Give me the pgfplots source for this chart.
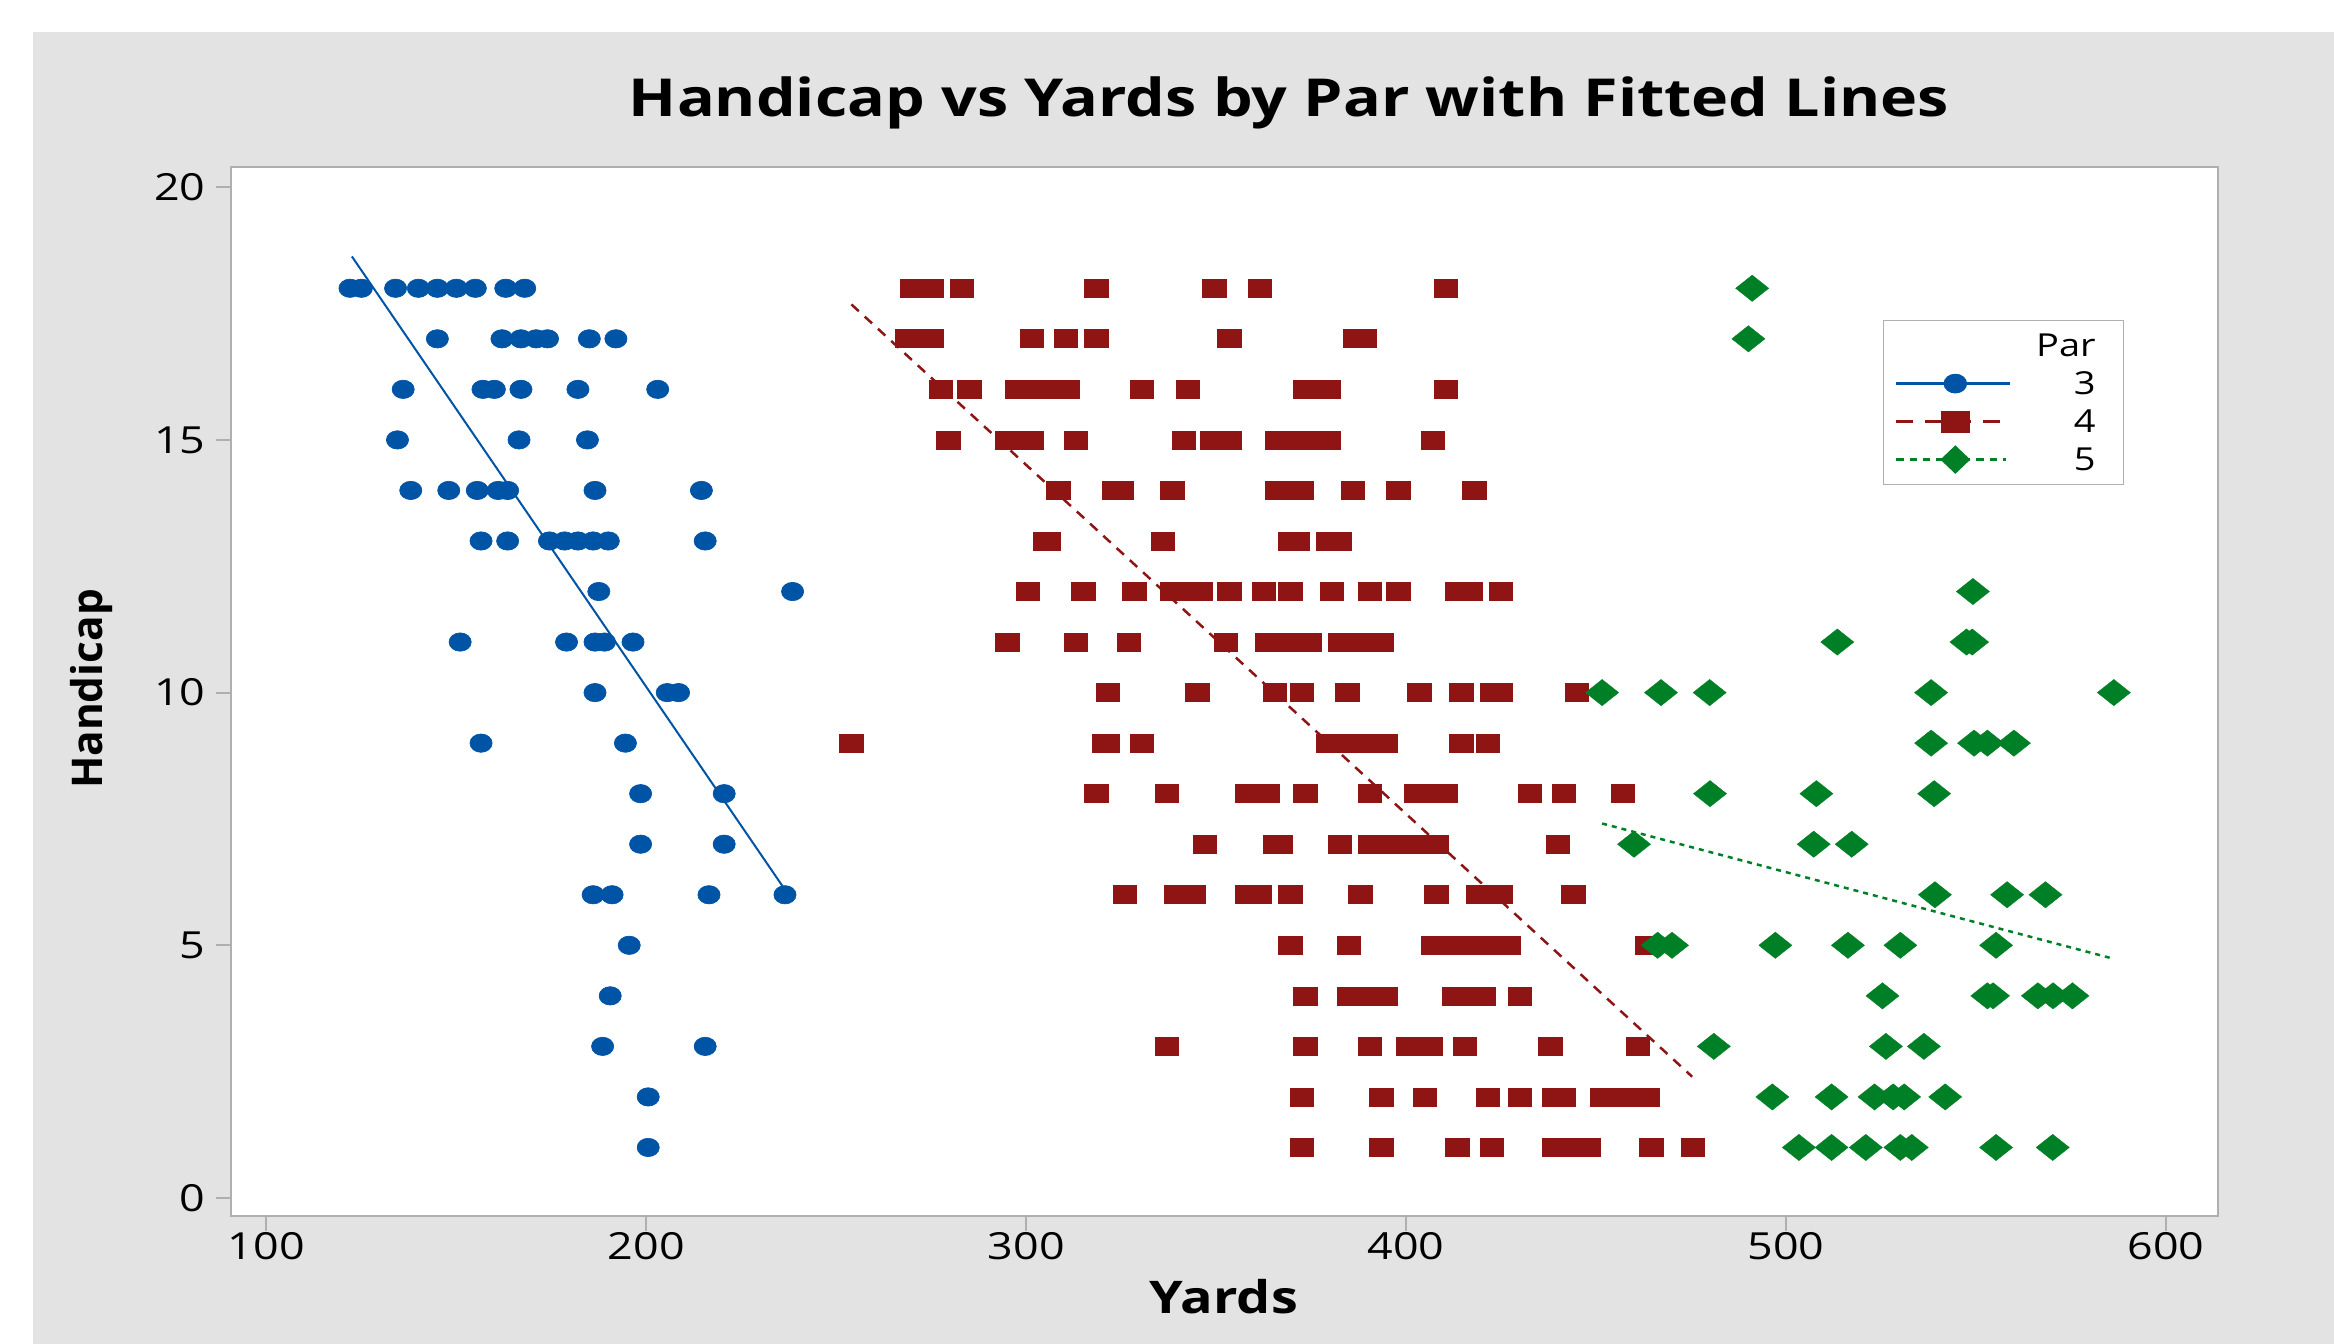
\documentclass[border=0pt]{standalone}
\usepackage{fontspec}
\setmainfont{Open Sans}[FakeStretch=1.2]
\newfontfamily\ylabfont{Open Sans}
\usepackage{pgfplots}
\pgfplotsset{compat=1.18}
\definecolor{pblue}{RGB}{0,84,166}
\definecolor{pred}{RGB}{143,20,20}
\definecolor{pgreen}{RGB}{0,128,38}
\definecolor{bggray}{RGB}{227,227,227}
\definecolor{framegray}{RGB}{175,175,175}
\begin{document}
\begin{tikzpicture}
\path[fill=white] (0,0) rectangle (700.2pt,403.2pt);
\fill[bggray] (9.9pt,0) rectangle (700.2pt,393.6pt);
\begin{axis}[
  at={(69.3pt,38.4pt)}, anchor=south west,
  width=596.1pt, height=314.7pt, scale only axis,
  xmin=90.68, xmax=613.72, ymin=-0.356, ymax=20.40,
  axis background/.style={fill=white},
  axis line style={framegray, line width=0.6pt},
  xtick={100,200,...,600}, ytick={0,5,...,20},
  tick align=outside, tick pos=left,
  major tick length=4.5pt,
  every tick/.style={framegray, line width=0.6pt},
  /pgf/number format/assume math mode=true,
  ticklabel style={font=\fontsize{11.2}{13}\selectfont, text=black},
  xticklabel style={inner sep=0.3pt},
  yticklabel style={inner sep=3pt},
  title={Handicap vs Yards by Par with Fitted Lines},
  title style={at={(axis description cs:0.5325,1.0477)}, anchor=base, yshift=-6pt, font=\fontsize{15.7}{18}\selectfont\bfseries},
  xlabel={Yards},
  xlabel style={at={(axis description cs:0.4997,-0.0925)}, anchor=base, font=\fontsize{13.5}{16}\selectfont\bfseries},
  ylabel={Handicap},
  ylabel style={at={(axis description cs:-0.07,0.5024)}, anchor=center, font=\ylabfont\fontsize{12.7}{15}\selectfont\bfseries},
  legend style={at={(axis description cs:0.9527,0.8542)}, anchor=north east,
    draw=framegray, fill=white, font=\fontsize{9.5}{11}\selectfont,
    inner xsep=3.5pt, inner ysep=1.8pt, row sep=0pt,
    nodes={inner xsep=1pt, inner ysep=2.3pt, text height=6.8pt, text depth=0pt},
    /tikz/every odd column/.append style={column sep=6.5pt}},
  legend cell align=right,
]
\addlegendimage{empty legend}
\addlegendentry{Par\hspace*{3.8pt}}

% Par 3
\addplot[only marks, mark=*, mark size=2.75pt, color=pblue,
  mark options={xscale=1.21, fill=pblue, draw=pblue, line width=0.2pt},
  legend image code/.code={
    \draw[pblue, line width=0.9pt] (0pt,0pt) -- (34pt,0pt);
    \draw[pblue, fill=pblue, only marks, mark=*, mark size=2.75pt, mark options={xscale=1.21}] plot coordinates {(17.7pt,0pt)};
  }] coordinates {
(122,18)(125,18)(134,18)(140,18)(145,18)(150,18)(155,18)(163,18)(168,18)
(145,17)(162,17)(167,17)(171,17)(174,17)(185,17)(192,17)
(136,16)(157,16)(160,16)(167,16)(182,16)(203,16)
(134.5,15)(166.5,15)(184.5,15)
(138,14)(148,14)(155.5,14)(161,14)(163.5,14)(186.5,14)(214.5,14)
(156.5,13)(163.5,13)(174.5,13)(178.5,13)(182,13)(186,13)(190,13)(215.5,13)
(187.5,12)(238.5,12)
(151,11)(179,11)(186.5,11)(189,11)(196.5,11)
(186.5,10)(205.5,10)(208.5,10)
(156.5,9)(194.5,9)
(198.5,8)(220.5,8)
(198.5,7)(220.5,7)
(186,6)(191,6)(216.5,6)(236.5,6)
(195.5,5)
(190.5,4)
(188.5,3)(215.5,3)
(200.5,2)
(200.5,1)
};
\addlegendentry{3\hspace*{3.8pt}}

% Par 4
\addplot[only marks, mark=square*, mark size=2.7pt, color=pred,
  mark options={xscale=1.3, fill=pred, draw=pred, line width=0.2pt},
  legend image code/.code={
    \draw[pred, line width=0.9pt, dash pattern=on 5pt off 3.7pt] (0pt,0pt) -- (31.5pt,0pt);
    \draw[pred, fill=pred, only marks, mark=square*, mark size=3.2pt] plot coordinates {(17.7pt,0pt)};
  }] coordinates {
(270,18)(275,18)(283,18)(318.5,18)(349.5,18)(361.5,18)(410.5,18)
(268.5,17)(275,17)(301.5,17)(310.5,17)(318.5,17)(353.5,17)(386.5,17)(389,17)
(277.5,16)(285,16)(297.5,16)(302,16)(306.5,16)(311,16)(330.5,16)(342.5,16)(373.5,16)(376.5,16)(379.5,16)(410.5,16)
(279.5,15)(295,15)(298,15)(301.5,15)(313,15)(341.5,15)(349,15)(353.5,15)(366,15)(370.5,15)(375,15)(379.5,15)(407,15)
(308.5,14)(323,14)(325,14)(338.5,14)(366,14)(369,14)(372.5,14)(386,14)(398,14)(418,14)
(305,13)(306,13)(336,13)(369.5,13)(371.5,13)(379.5,13)(382.5,13)
(300.5,12)(315,12)(328.5,12)(338.5,12)(342.5,12)(346,12)(353.5,12)(362.5,12)(369.5,12)(380.5,12)(390.5,12)(398,12)(413.5,12)(417,12)(425,12)
(295,11)(313,11)(327,11)(352.5,11)(363.5,11)(367,11)(370.5,11)(374.5,11)(382.5,11)(386,11)(389.5,11)(393.5,11)
(321.5,10)(345,10)(365.5,10)(372.5,10)(384.5,10)(403.5,10)(414.5,10)(422.5,10)(425,10)(445,10)
(254,9)(320.5,9)(321.5,9)(330.5,9)(379.5,9)(383,9)(387,9)(390.5,9)(394.5,9)(414.5,9)(421.5,9)
(318.5,8)(337,8)(358,8)(363.5,8)(373.5,8)(390.5,8)(402.5,8)(406.5,8)(410.5,8)(432.5,8)(441.5,8)(457,8)
(347,7)(365.5,7)(367,7)(382.5,7)(390.5,7)(395,7)(399.5,7)(403.5,7)(408,7)(440,7)
(326,6)(339.5,6)(344,6)(358,6)(361.5,6)(369.5,6)(388,6)(408,6)(419,6)(422,6)(425,6)(444,6)
(369.5,5)(385,5)(407,5)(411,5)(415,5)(419,5)(423,5)(427,5)(463.5,5)
(373.5,4)(385,4)(389.5,4)(394.5,4)(412.5,4)(416.5,4)(420.5,4)(430,4)
(337,3)(373.5,3)(390.5,3)(400.5,3)(403.5,3)(406.5,3)(415.5,3)(438,3)(461,3)
(372.5,2)(393.5,2)(405,2)(421.5,2)(430,2)(439,2)(441.5,2)(451.5,2)(455.5,2)(459.5,2)(463.5,2)
(372.5,1)(393.5,1)(413.5,1)(422.5,1)(439,1)(443.5,1)(448,1)(464.5,1)(475.5,1)
};
\addlegendentry{4\hspace*{3.8pt}}

% Par 5
\addplot[only marks, mark=diamond*, mark size=3.95pt, color=pgreen,
  mark options={xscale=1.68, fill=pgreen, draw=pgreen, line width=0.1pt},
  legend image code/.code={
    \draw[pgreen, line width=0.9pt, dash pattern=on 2.2pt off 1.8pt] (0pt,0pt) -- (33pt,0pt);
    \draw[pgreen, fill=pgreen, only marks, mark=diamond*, mark size=4pt, mark options={xscale=1.4}] plot coordinates {(17.7pt,0pt)};
  }] coordinates {
(491.1,18)(490.1,17)(549.2,12)
(513.5,11)(547.5,11)(549,11)
(451.6,10)(467.1,10)(479.9,10)(538.2,10)(586.3,10)
(538.2,9)(549.5,9)(553,9)(560,9)
(480,8)(508,8)(539,8)
(460,7)(507.3,7)(517.3,7)
(539.2,6)(558.2,6)(568.3,6)
(466.2,5)(470,5)(497.2,5)(516.3,5)(530.1,5)(555.3,5)
(525.4,4)(553,4)(554.5,4)(566.3,4)(570.3,4)(575.4,4)
(481,3)(526.3,3)(536.3,3)
(496.4,2)(512,2)(523.3,2)(528.2,2)(531.1,2)(541.9,2)
(503.4,1)(512,1)(521,1)(530.1,1)(533.1,1)(555.3,1)(570.2,1)
};
\addlegendentry{5\hspace*{3.8pt}}

% fitted lines
\addplot[pblue, line width=0.6pt, forget plot] coordinates {(122.5,18.63) (236.5,6.1)};
\addplot[pred, line width=0.75pt, dash pattern=on 3pt off 2.4pt, forget plot] coordinates {(254,17.68) (475.3,2.4)};
\addplot[pgreen, line width=0.75pt, dash pattern=on 1.5pt off 1.5pt, forget plot] coordinates {(451.6,7.41) (586.4,4.73)};
\end{axis}
\end{tikzpicture}
\end{document}
